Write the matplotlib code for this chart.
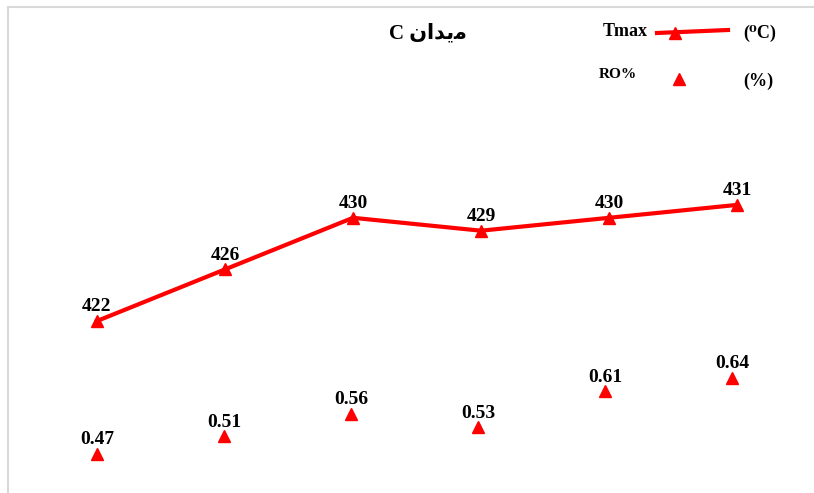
import matplotlib
matplotlib.use("Agg")
import matplotlib.pyplot as plt
from matplotlib.lines import Line2D

# ---- data ----
samples = [1, 2, 3, 4, 5, 6]
tmax = [422, 426, 430, 429, 430, 431]
ro = [0.47, 0.51, 0.56, 0.53, 0.61, 0.64]
tmax_labels = ["422", "426", "430", "429", "430", "431"]
ro_labels = ["0.47", "0.51", "0.56", "0.53", "0.61", "0.64"]
title_text = "C " + "\uFEE5\uFE8D\uFEAA\uFBFE\uFEE3"  # "میدان C" shaped for display
legend_names = ["Tmax", "RO%"]
legend_units = ["(\u2070C)", "(%)"]

W, H = 814, 493
fig = plt.figure(figsize=(W / 100, H / 100), dpi=100)
fig.patch.set_facecolor("white")

serif = ["Liberation Serif", "DejaVu Serif"]
red = "#ff0000"

# Tmax axes
ax = fig.add_axes([0, 0, 1, 1])
ax.set_xlim(1 - 97 / 128, 1 + (W - 97) / 128)
ax.set_ylim(422 - (H - 321) / 12.9, 422 + 321 / 12.9)
ax.axis("off")
ax.plot(samples, tmax, color=red, lw=3, marker="^", ms=9, zorder=3)
for x, y, s in zip(samples, tmax, tmax_labels):
    ax.annotate(s, (x, y), xytext=(0, 4), textcoords="offset points",
                ha="center", va="bottom", fontsize=14, fontweight="bold",
                family=serif, color="black")

# RO axes
ax2 = fig.add_axes([0, 0, 1, 1])
ax2.set_xlim(1 - 97 / 127, 1 + (W - 97) / 127)
ax2.set_ylim(0.47 - (H - 454) / 447, 0.47 + 454 / 447)
ax2.axis("off")
ax2.plot(samples, ro, linestyle="none", color=red, marker="^", ms=9, zorder=3)
for x, y, s in zip(samples, ro, ro_labels):
    ax2.annotate(s, (x, y), xytext=(0, 4), textcoords="offset points",
                 ha="center", va="bottom", fontsize=14, fontweight="bold",
                 family=serif, color="black")

# border (partial frame)
fig.add_artist(Line2D([8 / W, 1], [1 - 7 / H, 1 - 7 / H], color="#d9d9d9", lw=1.5,
                      transform=fig.transFigure))
fig.add_artist(Line2D([8 / W, 8 / W], [0, 1 - 7 / H], color="#d9d9d9", lw=1.5,
                      transform=fig.transFigure))

# title
fig.text(428 / W, 1 - 33 / H, title_text, ha="center", va="center", fontsize=15,
         fontweight="bold", family=["Liberation Serif", "DejaVu Sans"])

# legend (manual)
fig.text(625 / W, 1 - 31 / H, legend_names[0], ha="center", va="center", fontsize=13,
         fontweight="bold", family=serif)
fig.add_artist(Line2D([657 / W, 728 / W], [1 - 33 / H, 1 - 30 / H], color=red, lw=3,
                      transform=fig.transFigure))
fig.add_artist(Line2D([675 / W], [1 - 33 / H], color=red, marker="^", ms=9,
                      linestyle="none", transform=fig.transFigure))
fig.text(760 / W, 1 - 33 / H, legend_units[0], ha="center", va="center", fontsize=13,
         fontweight="bold", family=serif)

fig.text(618 / W, 1 - 74 / H, legend_names[1], ha="center", va="center", fontsize=11,
         fontweight="bold", family=serif)
fig.add_artist(Line2D([679 / W], [1 - 79 / H], color=red, marker="^", ms=9,
                      linestyle="none", transform=fig.transFigure))
fig.text(758 / W, 1 - 81 / H, legend_units[1], ha="center", va="center", fontsize=13,
         fontweight="bold", family=serif)

fig.savefig("out.png", dpi=100, facecolor="white")
